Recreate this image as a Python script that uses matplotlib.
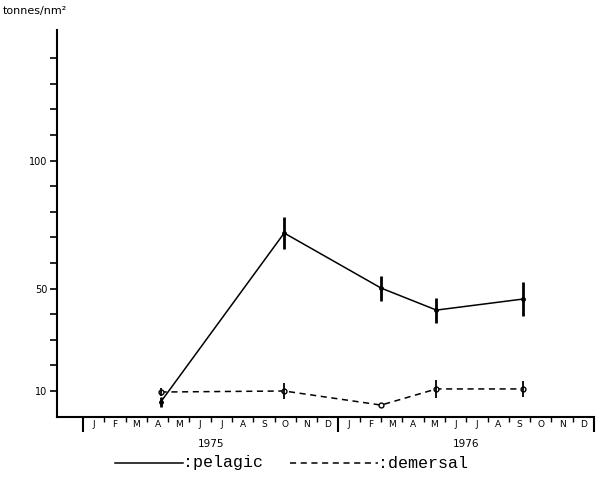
import numpy as np
import matplotlib
matplotlib.use("Agg")
import matplotlib.pyplot as plt
from matplotlib.lines import Line2D

# sample dates in months since 1 Jan 1975
t_pel = [3.65, 9.45, 14.0, 16.6, 20.65]
pelagic = [5.7, 71.7, 50.2, 41.6, 45.9]
pelagic_err = [2.0, 6.3, 4.9, 4.9, 6.8]

t_dem = [3.65, 9.45, 14.0, 16.6, 20.65]
demersal = [9.6, 10.0, 4.5, 10.8, 10.8]
demersal_err = [1.6, 3.3, 0.0, 3.5, 3.0]

months = ["J", "F", "M", "A", "M", "J", "J", "A", "S", "O", "N", "D"]
years = ["1975", "1976"]
ytick_vals = list(range(10, 150, 10))
ytick_labels = {10: "10", 50: "50", 100: "100"}

W, H = 599, 482
fig = plt.figure(figsize=(W / 100, H / 100), dpi=100)
# axes box in pixels: left 57, right 594, top 30, bottom 416.6
ax = fig.add_axes([57 / W, 1 - 416.6 / H, (594 - 57) / W, (416.6 - 30) / H])

ax.plot(t_pel, pelagic, color="black", lw=1.1, marker="o", ms=2.5, mfc="black")
ax.errorbar(t_pel, pelagic, yerr=pelagic_err, fmt="none", ecolor="black",
            elinewidth=2.0, capsize=0)

ax.plot(t_dem, demersal, color="black", lw=1.1, dashes=(4, 3),
        marker="o", ms=3.5, mfc="white", mec="black", mew=1.0)
ax.errorbar(t_dem, demersal, yerr=demersal_err, fmt="none", ecolor="black",
            elinewidth=1.3, capsize=0)

ax.set_xlim(-1.22, 24.0)
ax.set_ylim(0, 151)

for s in ["top", "right"]:
    ax.spines[s].set_visible(False)
ax.spines["left"].set_linewidth(1.5)
ax.spines["bottom"].set_linewidth(1.5)

ax.set_yticks(ytick_vals)
ax.set_yticklabels([ytick_labels.get(v, "") for v in ytick_vals])
ax.tick_params(axis="y", direction="out", length=5, width=1.2, pad=2, labelsize=7)

# year bars as major ticks, month boundaries as minor ticks
ax.set_xticks([0, 12, 24])
ax.set_xticklabels([])
ax.set_xticks([m for m in range(1, 24) if m != 12], minor=True)
ax.tick_params(axis="x", which="major", direction="out", length=11, width=1.5)
ax.tick_params(axis="x", which="minor", direction="out", length=3.5, width=1.0)

trans = ax.get_xaxis_transform()
for y_i, yr in enumerate(years):
    for m_i, m in enumerate(months):
        ax.text(12 * y_i + m_i + 0.5, -0.021, m, transform=trans,
                ha="center", va="center", fontsize=6.5)
    ax.text(12 * y_i + 6, -0.072, yr, transform=trans,
            ha="center", va="center", fontsize=7.5)

fig.text(3 / W, 1 - 11 / H, "tonnes/nm²", ha="left", va="center", fontsize=8)

# legend drawn below the axis
ly = 1 - 463 / H
fig.add_artist(Line2D([115 / W, 183 / W], [ly, ly], color="black", lw=1.1))
fig.text(183 / W, ly, ":pelagic", ha="left", va="center",
         family="Liberation Mono", fontsize=12)
fig.add_artist(Line2D([290 / W, 378 / W], [ly, ly], color="black", lw=1.1,
                      dashes=(4, 3)))
fig.text(378 / W, ly, ":demersal", ha="left", va="center",
         family="Liberation Mono", fontsize=12)

fig.savefig("out.png", dpi=100)
